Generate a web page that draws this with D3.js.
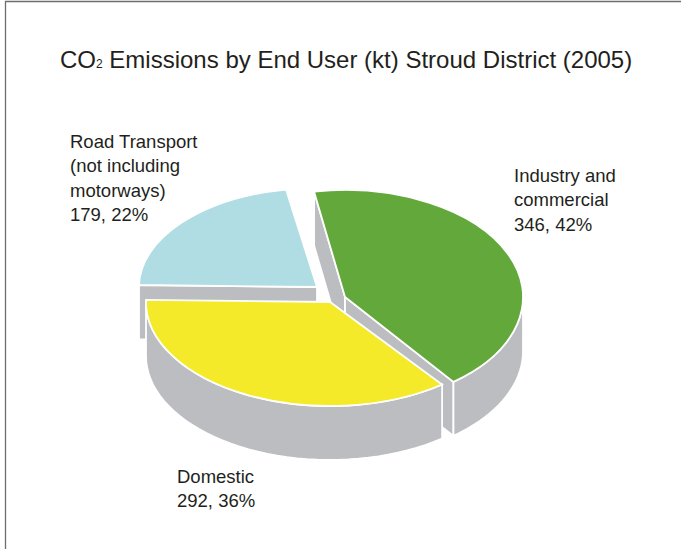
<!DOCTYPE html>
<html><head><meta charset="utf-8">
<script src="https://cdnjs.cloudflare.com/ajax/libs/d3/7.8.5/d3.min.js"></script>
<style>html,body{margin:0;padding:0;background:#fff}svg{display:block}text{font-family:"Liberation Sans",Arial,sans-serif;fill:#231f20}</style>
</head><body><svg id="c" width="681" height="549"></svg>
<script>
(function(){
const categories = ["Industry and commercial","Domestic","Road Transport (not including motorways)"];
const values = [346,292,179];
const percents = [42,36,22];
const colours = ["#62a83b","#f5ea2a","#b0dde3"];
const labelLines = [["Industry and","commercial","346, 42%"],["Domestic","292, 36%"],["Road Transport","(not including","motorways)","179, 22%"]];

const depth=54,wall="#bcbdc0";
const layout=[
 {cx:345,cy:297,rx:178,ry:107,lx:514,ly:182},
 {cx:330,cy:302,rx:184,ry:104,lx:177,ly:483},
 {cx:317,cy:287,rx:178,ry:99,lx:70,ly:148}
];
const svg=d3.select("#c");
svg.append("path").attr("d","M5.5,549V1.5H681").attr("fill","none").attr("stroke","#6e6e6e").attr("stroke-width",1.3);

const rad=d=>d*Math.PI/180;
const arcs=d3.pie().sort(null).startAngle(rad(-10)).endAngle(rad(350))(values);
const project=(i,a,dz=0)=>{const L=layout[i];return [L.cx+L.rx*Math.sin(a),L.cy-L.ry*Math.cos(a)+dz];};
const line=d3.line();
const unit=d3.arc().innerRadius(0).outerRadius(1);

function face(i,a){const L=layout[i];const p=project(i,a);
  return line([[L.cx,L.cy],p,[p[0],p[1]+depth],[L.cx,L.cy+depth]])+"Z";}
function outer(i,a0,a1){
  const as=d3.range(41).map(k=>a0+(a1-a0)*k/40);
  return line(as.map(a=>project(i,a)).concat(as.slice().reverse().map(a=>project(i,a,depth))))+"Z";}
function drawTop(i){const L=layout[i];
  svg.append("path").attr("d",unit(arcs[i])).attr("transform",`translate(${L.cx},${L.cy}) scale(${L.rx},${L.ry})`)
   .attr("fill",colours[i]).attr("stroke","#fff").attr("stroke-width",1.8).attr("vector-effect","non-scaling-stroke");}
function side(d){svg.append("path").attr("d",d).attr("fill",wall).attr("stroke","#fff").attr("stroke-width",1.8);}

side(face(2,arcs[2].startAngle));
drawTop(2);
side(face(0,arcs[0].startAngle));
side(face(0,arcs[0].endAngle));
side(outer(0,rad(90),arcs[0].endAngle));
drawTop(0);
side(outer(1,arcs[1].startAngle,rad(270)));
drawTop(1);

const t=svg.append("text").attr("x",60).attr("y",68).attr("font-size",24);
t.append("tspan").text("CO");
t.append("tspan").attr("font-size",12).text("2");
t.append("tspan").text(" Emissions by End User (kt) Stroud District (2005)");

labelLines.forEach((ls,i)=>{
  svg.append("g").selectAll("text").data(ls).join("text")
   .attr("x",layout[i].lx).attr("y",(d,k)=>layout[i].ly+k*24.4).attr("font-size",18.5).text(d=>d);
});
})();
</script></body></html>
